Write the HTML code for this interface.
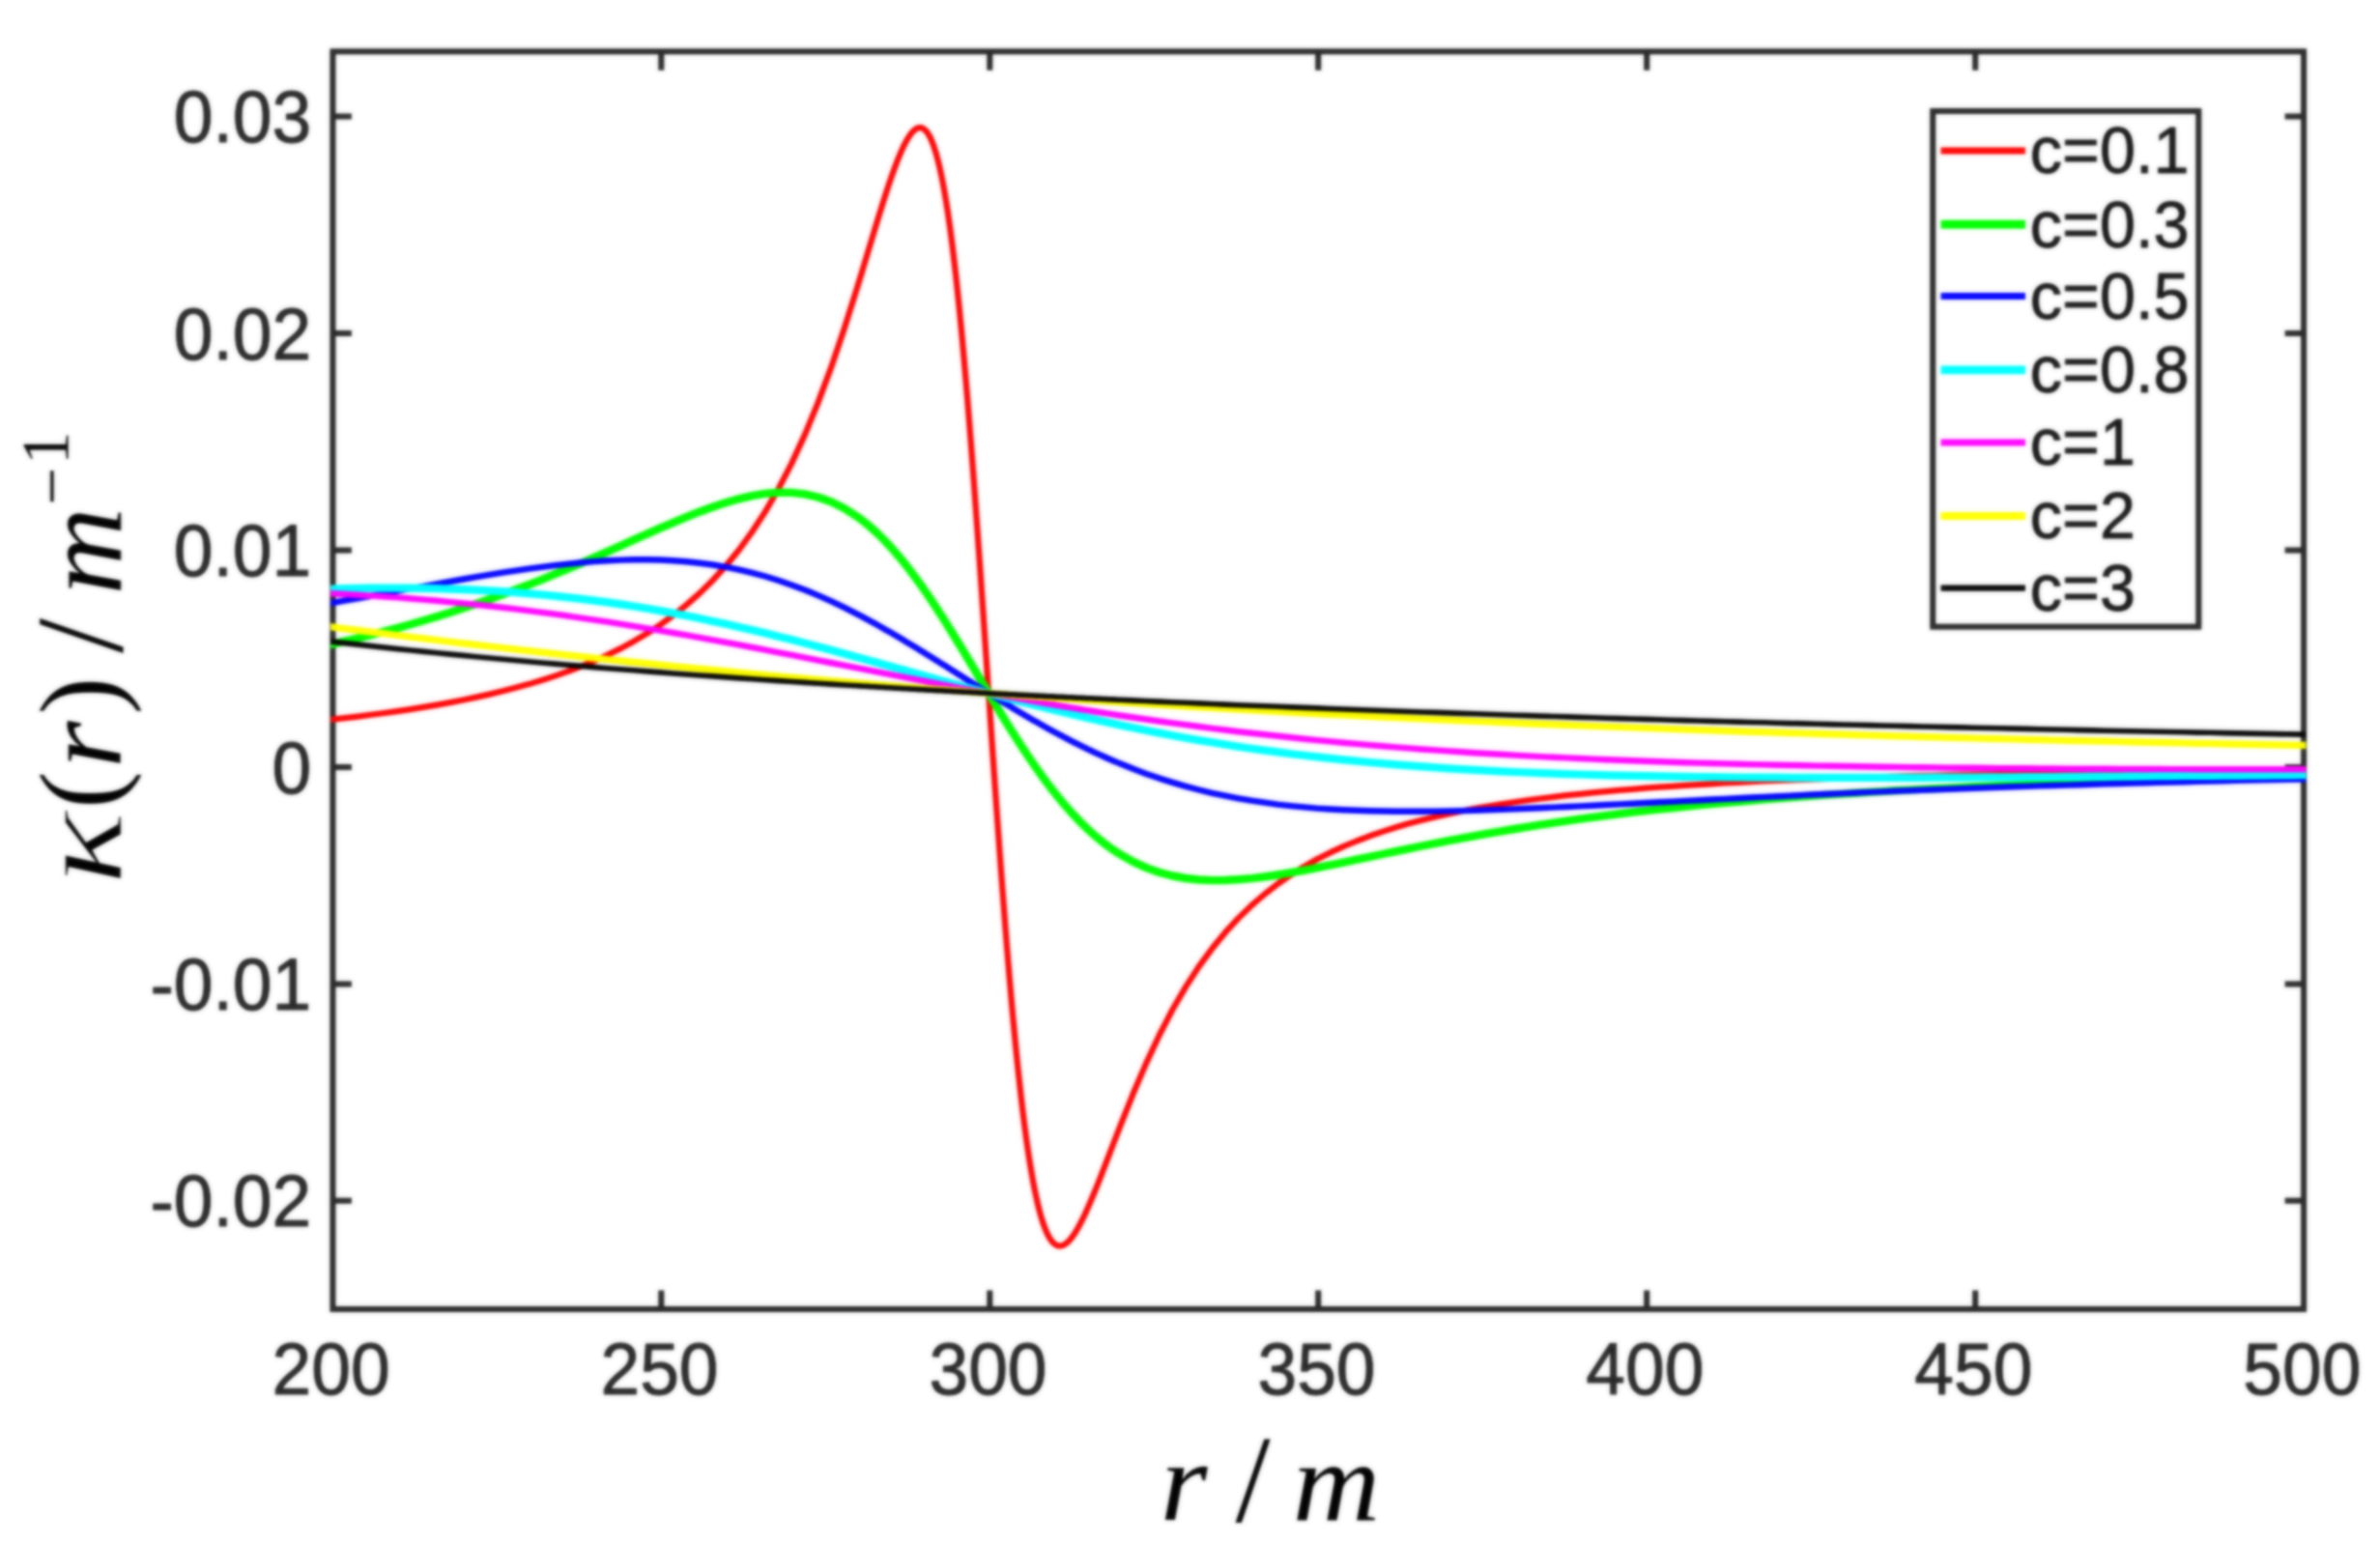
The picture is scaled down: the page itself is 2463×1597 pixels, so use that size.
<!DOCTYPE html>
<html><head><meta charset="utf-8"><title>kappa(r)</title>
<style>
html,body{margin:0;padding:0;background:#fff;}
body{width:2463px;height:1597px;overflow:hidden;}
svg{display:block;}
.t{font-family:"Liberation Sans",sans-serif;fill:#262626;}
.t text{stroke:#262626;stroke-width:0.9px;stroke-linejoin:round;}
.m{font-family:"Liberation Serif",serif;fill:#000;}
.i{font-style:italic;}
</style></head><body>
<svg width="2463" height="1597" viewBox="0 0 2463 1597">
<defs><filter id="b" x="-2%" y="-2%" width="104%" height="104%" color-interpolation-filters="sRGB"><feGaussianBlur in="SourceGraphic" stdDeviation="1.00" result="a"/><feGaussianBlur in="SourceGraphic" stdDeviation="2.4" result="c"/><feComposite in="a" in2="c" operator="arithmetic" k1="0" k2="0.6" k3="0.4" k4="0"/></filter>
<clipPath id="cp"><rect x="342.2" y="53.3" width="2044.1" height="1301.7"/></clipPath></defs>
<rect width="2463" height="1597" fill="#fff"/>
<g filter="url(#b)">
<g stroke="#262626" stroke-width="6.0" fill="none" stroke-linecap="butt">
<rect x="344.4" y="53.3" width="2039.7" height="1301.7"/>
<path d="M684.3 1355.0V1335.5M684.3 53.3V72.8M1024.3 1355.0V1335.5M1024.3 53.3V72.8M1364.2 1355.0V1335.5M1364.2 53.3V72.8M1704.2 1355.0V1335.5M1704.2 53.3V72.8M2044.2 1355.0V1335.5M2044.2 53.3V72.8M344.4 1242.8H363.9M2384.1 1242.8H2364.6M344.4 1018.4H363.9M2384.1 1018.4H2364.6M344.4 793.9H363.9M2384.1 793.9H2364.6M344.4 569.5H363.9M2384.1 569.5H2364.6M344.4 345.1H363.9M2384.1 345.1H2364.6M344.4 120.6H363.9M2384.1 120.6H2364.6"/>
</g>
<g clip-path="url(#cp)" fill="none" stroke-linejoin="round" stroke-linecap="butt">
<polyline stroke="#ff0000" stroke-width="6.2" points="329.6,746.1 343.2,744.7 356.8,743.2 370.4,741.6 384.0,739.8 397.6,738.0 411.2,736.1 424.8,734.1 438.4,731.9 452.0,729.6 465.6,727.1 479.2,724.5 492.8,721.6 506.4,718.6 520.0,715.3 533.6,711.8 547.2,708.1 560.8,704.0 574.4,699.6 588.0,694.8 601.6,689.6 615.2,684.0 628.8,677.8 642.4,671.1 656.0,663.7 669.6,655.7 683.1,646.8 696.7,637.0 710.3,626.1 723.9,614.1 737.5,600.7 751.1,585.8 764.7,569.2 778.3,550.5 791.9,529.6 805.5,506.2 819.1,479.9 832.7,450.4 846.3,417.4 859.9,380.9 873.5,340.8 887.1,297.6 888.8,292.0 890.5,286.5 892.2,280.8 893.9,275.2 895.6,269.6 897.3,263.9 899.0,258.2 900.7,252.6 902.4,246.9 904.1,241.3 905.8,235.7 907.5,230.1 909.2,224.5 910.9,219.0 912.6,213.5 914.3,208.1 916.0,202.8 917.7,197.5 919.4,192.3 921.1,187.3 922.8,182.3 924.5,177.5 926.2,172.9 927.9,168.4 929.6,164.0 931.3,159.9 933.0,156.0 934.7,152.2 936.4,148.8 938.1,145.6 939.8,142.7 941.5,140.1 943.2,137.8 944.9,135.9 946.6,134.3 948.3,133.1 950.0,132.4 951.7,132.1 953.4,132.2 955.1,132.9 956.8,134.0 958.5,135.7 960.2,138.0 961.9,140.9 963.6,144.4 965.3,148.5 967.0,153.3 968.7,158.8 970.4,165.0 972.1,171.9 973.8,179.6 975.5,188.0 977.2,197.2 978.9,207.3 980.6,218.1 982.3,229.7 984.0,242.2 985.7,255.5 987.4,269.6 989.1,284.5 990.8,300.3 992.5,316.8 994.2,334.2 995.9,352.3 997.6,371.2 999.3,390.7 1001.0,411.0 1002.7,432.0 1004.4,453.5 1006.1,475.6 1007.8,498.3 1009.5,521.5 1011.2,545.0 1012.9,569.0 1014.6,593.3 1016.3,617.8 1018.0,642.6 1019.7,667.5 1021.4,692.5 1023.1,717.5 1024.8,742.5 1026.5,767.3 1028.2,792.0 1029.9,816.5 1031.6,840.7 1033.3,864.6 1035.0,888.0 1036.7,911.1 1038.4,933.6 1040.1,955.6 1041.8,977.0 1043.5,997.8 1045.2,1018.0 1046.9,1037.5 1048.6,1056.2 1050.3,1074.3 1052.0,1091.6 1053.7,1108.2 1055.4,1123.9 1057.1,1138.9 1058.8,1153.2 1060.5,1166.6 1062.2,1179.3 1063.9,1191.1 1065.6,1202.3 1067.3,1212.6 1069.0,1222.2 1070.7,1231.1 1072.4,1239.2 1074.1,1246.7 1075.8,1253.5 1077.5,1259.6 1079.2,1265.1 1080.9,1269.9 1082.6,1274.2 1084.3,1277.9 1086.0,1281.0 1087.7,1283.6 1089.4,1285.7 1091.1,1287.3 1092.8,1288.5 1094.5,1289.3 1096.2,1289.6 1097.9,1289.5 1099.6,1289.1 1101.3,1288.3 1103.0,1287.2 1104.7,1285.8 1106.4,1284.1 1108.1,1282.2 1109.8,1280.0 1111.5,1277.6 1113.2,1274.9 1114.9,1272.1 1116.6,1269.0 1118.3,1265.8 1120.0,1262.5 1121.7,1259.0 1123.4,1255.4 1125.1,1251.6 1126.8,1247.8 1128.5,1243.8 1130.2,1239.8 1131.9,1235.7 1133.6,1231.6 1135.3,1227.3 1137.0,1223.1 1138.7,1218.8 1140.4,1214.4 1142.1,1210.0 1143.8,1205.6 1145.5,1201.2 1147.2,1196.8 1148.9,1192.4 1150.6,1187.9 1152.3,1183.5 1154.0,1179.1 1155.7,1174.7 1157.4,1170.3 1159.1,1165.9 1172.7,1131.8 1186.3,1100.1 1199.9,1071.0 1213.5,1044.8 1227.1,1021.4 1240.7,1000.4 1254.3,981.8 1267.9,965.2 1281.5,950.4 1295.1,937.2 1308.7,925.5 1322.3,914.9 1335.9,905.5 1349.5,897.0 1363.0,889.3 1376.6,882.4 1390.2,876.1 1403.8,870.5 1417.4,865.3 1431.0,860.6 1444.6,856.3 1458.2,852.3 1471.8,848.7 1485.4,845.4 1499.0,842.4 1512.6,839.5 1526.2,836.9 1539.8,834.5 1553.4,832.3 1567.0,830.2 1580.6,828.3 1594.2,826.5 1607.8,824.8 1621.4,823.2 1635.0,821.8 1648.6,820.4 1662.2,819.1 1675.8,817.9 1689.4,816.8 1703.0,815.7 1716.6,814.7 1730.2,813.8 1743.8,812.9 1757.4,812.1 1771.0,811.3 1784.6,810.5 1798.2,809.8 1811.8,809.1 1825.4,808.5 1839.0,807.9 1852.6,807.3 1866.2,806.8 1879.8,806.3 1893.4,805.8 1907.0,805.3 1920.6,804.8 1934.2,804.4 1947.8,804.0 1961.4,803.6 1975.0,803.2 1988.6,802.9 2002.2,802.5 2015.8,802.2 2029.4,801.9 2043.0,801.6 2056.5,801.3 2070.1,801.1 2083.7,800.8 2097.3,800.5 2110.9,800.3 2124.5,800.1 2138.1,799.8 2151.7,799.6 2165.3,799.4 2178.9,799.2 2192.5,799.0 2206.1,798.8 2219.7,798.7 2233.3,798.5 2246.9,798.3 2260.5,798.2 2274.1,798.0 2287.7,797.9 2301.3,797.7 2314.9,797.6 2328.5,797.4 2342.1,797.3 2355.7,797.2 2369.3,797.1 2382.9,797.0 2396.5,796.8"/>
<polyline stroke="#00ff00" stroke-width="8.4" points="329.6,669.8 343.2,666.8 356.8,663.7 370.4,660.5 384.0,657.1 397.6,653.6 411.2,650.0 424.8,646.2 438.4,642.3 452.0,638.2 465.6,634.0 479.2,629.6 492.8,625.0 506.4,620.3 520.0,615.4 533.6,610.3 547.2,605.1 560.8,599.8 574.4,594.2 588.0,588.6 601.6,582.8 615.2,576.9 628.8,570.9 642.4,564.8 656.0,558.7 669.6,552.6 683.1,546.6 696.7,540.8 710.3,535.1 723.9,529.7 737.5,524.7 751.1,520.2 764.7,516.3 778.3,513.2 791.9,510.9 805.5,509.8 819.1,509.9 832.7,511.4 846.3,514.5 859.9,519.3 873.5,526.0 887.1,534.7 888.8,535.9 890.5,537.2 892.2,538.5 893.9,539.8 895.6,541.2 897.3,542.6 899.0,544.0 900.7,545.5 902.4,547.0 904.1,548.5 905.8,550.0 907.5,551.6 909.2,553.2 910.9,554.9 912.6,556.6 914.3,558.3 916.0,560.0 917.7,561.8 919.4,563.6 921.1,565.5 922.8,567.4 924.5,569.3 926.2,571.2 927.9,573.2 929.6,575.2 931.3,577.2 933.0,579.3 934.7,581.3 936.4,583.5 938.1,585.6 939.8,587.8 941.5,590.0 943.2,592.2 944.9,594.5 946.6,596.7 948.3,599.1 950.0,601.4 951.7,603.8 953.4,606.1 955.1,608.5 956.8,611.0 958.5,613.4 960.2,615.9 961.9,618.4 963.6,620.9 965.3,623.5 967.0,626.0 968.7,628.6 970.4,631.2 972.1,633.9 973.8,636.5 975.5,639.1 977.2,641.8 978.9,644.5 980.6,647.2 982.3,649.9 984.0,652.7 985.7,655.4 987.4,658.2 989.1,660.9 990.8,663.7 992.5,666.5 994.2,669.3 995.9,672.1 997.6,674.9 999.3,677.7 1001.0,680.6 1002.7,683.4 1004.4,686.2 1006.1,689.1 1007.8,691.9 1009.5,694.8 1011.2,697.6 1012.9,700.5 1014.6,703.3 1016.3,706.1 1018.0,709.0 1019.7,711.8 1021.4,714.7 1023.1,717.5 1024.8,720.3 1026.5,723.2 1028.2,726.0 1029.9,728.8 1031.6,731.6 1033.3,734.4 1035.0,737.2 1036.7,740.0 1038.4,742.7 1040.1,745.5 1041.8,748.2 1043.5,751.0 1045.2,753.7 1046.9,756.4 1048.6,759.1 1050.3,761.7 1052.0,764.4 1053.7,767.0 1055.4,769.7 1057.1,772.3 1058.8,774.9 1060.5,777.4 1062.2,780.0 1063.9,782.5 1065.6,785.0 1067.3,787.5 1069.0,790.0 1070.7,792.5 1072.4,794.9 1074.1,797.3 1075.8,799.7 1077.5,802.0 1079.2,804.4 1080.9,806.7 1082.6,809.0 1084.3,811.2 1086.0,813.5 1087.7,815.7 1089.4,817.9 1091.1,820.0 1092.8,822.2 1094.5,824.3 1096.2,826.4 1097.9,828.4 1099.6,830.5 1101.3,832.5 1103.0,834.4 1104.7,836.4 1106.4,838.3 1108.1,840.2 1109.8,842.1 1111.5,843.9 1113.2,845.7 1114.9,847.5 1116.6,849.3 1118.3,851.0 1120.0,852.7 1121.7,854.4 1123.4,856.0 1125.1,857.6 1126.8,859.2 1128.5,860.8 1130.2,862.3 1131.9,863.8 1133.6,865.3 1135.3,866.7 1137.0,868.2 1138.7,869.6 1140.4,870.9 1142.1,872.3 1143.8,873.6 1145.5,874.9 1147.2,876.1 1148.9,877.4 1150.6,878.6 1152.3,879.8 1154.0,880.9 1155.7,882.0 1157.4,883.1 1159.1,884.2 1172.7,891.9 1186.3,898.1 1199.9,903.0 1213.5,906.5 1227.1,909.0 1240.7,910.5 1254.3,911.1 1267.9,911.0 1281.5,910.3 1295.1,909.1 1308.7,907.5 1322.3,905.5 1335.9,903.2 1349.5,900.8 1363.0,898.2 1376.6,895.4 1390.2,892.6 1403.8,889.7 1417.4,886.9 1431.0,884.0 1444.6,881.1 1458.2,878.3 1471.8,875.5 1485.4,872.8 1499.0,870.2 1512.6,867.6 1526.2,865.1 1539.8,862.6 1553.4,860.3 1567.0,858.0 1580.6,855.8 1594.2,853.6 1607.8,851.6 1621.4,849.6 1635.0,847.7 1648.6,845.8 1662.2,844.1 1675.8,842.4 1689.4,840.7 1703.0,839.1 1716.6,837.6 1730.2,836.2 1743.8,834.8 1757.4,833.4 1771.0,832.1 1784.6,830.9 1798.2,829.7 1811.8,828.5 1825.4,827.4 1839.0,826.3 1852.6,825.3 1866.2,824.3 1879.8,823.4 1893.4,822.4 1907.0,821.6 1920.6,820.7 1934.2,819.9 1947.8,819.1 1961.4,818.3 1975.0,817.6 1988.6,816.9 2002.2,816.2 2015.8,815.6 2029.4,814.9 2043.0,814.3 2056.5,813.7 2070.1,813.1 2083.7,812.6 2097.3,812.1 2110.9,811.5 2124.5,811.0 2138.1,810.6 2151.7,810.1 2165.3,809.7 2178.9,809.2 2192.5,808.8 2206.1,808.4 2219.7,808.0 2233.3,807.6 2246.9,807.2 2260.5,806.9 2274.1,806.5 2287.7,806.2 2301.3,805.9 2314.9,805.5 2328.5,805.2 2342.1,804.9 2355.7,804.7 2369.3,804.4 2382.9,804.1 2396.5,803.8"/>
<polyline stroke="#0000ff" stroke-width="6.4" points="329.6,626.7 343.2,624.2 356.8,621.7 370.4,619.3 384.0,616.8 397.6,614.3 411.2,611.7 424.8,609.2 438.4,606.8 452.0,604.3 465.6,601.9 479.2,599.5 492.8,597.1 506.4,594.9 520.0,592.7 533.6,590.6 547.2,588.6 560.8,586.8 574.4,585.1 588.0,583.6 601.6,582.2 615.2,581.1 628.8,580.2 642.4,579.6 656.0,579.3 669.6,579.2 683.1,579.5 696.7,580.2 710.3,581.2 723.9,582.7 737.5,584.5 751.1,586.8 764.7,589.6 778.3,592.8 791.9,596.5 805.5,600.7 819.1,605.4 832.7,610.5 846.3,616.1 859.9,622.2 873.5,628.7 887.1,635.6 888.8,636.5 890.5,637.3 892.2,638.2 893.9,639.2 895.6,640.1 897.3,641.0 899.0,641.9 900.7,642.8 902.4,643.8 904.1,644.7 905.8,645.6 907.5,646.6 909.2,647.5 910.9,648.5 912.6,649.5 914.3,650.4 916.0,651.4 917.7,652.4 919.4,653.3 921.1,654.3 922.8,655.3 924.5,656.3 926.2,657.3 927.9,658.3 929.6,659.3 931.3,660.3 933.0,661.3 934.7,662.3 936.4,663.4 938.1,664.4 939.8,665.4 941.5,666.4 943.2,667.5 944.9,668.5 946.6,669.5 948.3,670.6 950.0,671.6 951.7,672.7 953.4,673.7 955.1,674.8 956.8,675.8 958.5,676.9 960.2,677.9 961.9,679.0 963.6,680.0 965.3,681.1 967.0,682.2 968.7,683.2 970.4,684.3 972.1,685.4 973.8,686.4 975.5,687.5 977.2,688.6 978.9,689.6 980.6,690.7 982.3,691.8 984.0,692.9 985.7,693.9 987.4,695.0 989.1,696.1 990.8,697.2 992.5,698.2 994.2,699.3 995.9,700.4 997.6,701.5 999.3,702.5 1001.0,703.6 1002.7,704.7 1004.4,705.8 1006.1,706.8 1007.8,707.9 1009.5,709.0 1011.2,710.1 1012.9,711.1 1014.6,712.2 1016.3,713.3 1018.0,714.3 1019.7,715.4 1021.4,716.5 1023.1,717.5 1024.8,718.6 1026.5,719.6 1028.2,720.7 1029.9,721.7 1031.6,722.8 1033.3,723.8 1035.0,724.9 1036.7,725.9 1038.4,727.0 1040.1,728.0 1041.8,729.0 1043.5,730.1 1045.2,731.1 1046.9,732.1 1048.6,733.2 1050.3,734.2 1052.0,735.2 1053.7,736.2 1055.4,737.2 1057.1,738.2 1058.8,739.2 1060.5,740.2 1062.2,741.2 1063.9,742.2 1065.6,743.2 1067.3,744.2 1069.0,745.2 1070.7,746.2 1072.4,747.1 1074.1,748.1 1075.8,749.1 1077.5,750.0 1079.2,751.0 1080.9,752.0 1082.6,752.9 1084.3,753.9 1086.0,754.8 1087.7,755.7 1089.4,756.7 1091.1,757.6 1092.8,758.5 1094.5,759.4 1096.2,760.3 1097.9,761.2 1099.6,762.1 1101.3,763.0 1103.0,763.9 1104.7,764.8 1106.4,765.7 1108.1,766.6 1109.8,767.5 1111.5,768.3 1113.2,769.2 1114.9,770.0 1116.6,770.9 1118.3,771.7 1120.0,772.6 1121.7,773.4 1123.4,774.2 1125.1,775.1 1126.8,775.9 1128.5,776.7 1130.2,777.5 1131.9,778.3 1133.6,779.1 1135.3,779.9 1137.0,780.7 1138.7,781.4 1140.4,782.2 1142.1,783.0 1143.8,783.7 1145.5,784.5 1147.2,785.3 1148.9,786.0 1150.6,786.7 1152.3,787.5 1154.0,788.2 1155.7,788.9 1157.4,789.6 1159.1,790.3 1172.7,795.8 1186.3,800.9 1199.9,805.6 1213.5,809.9 1227.1,813.9 1240.7,817.5 1254.3,820.8 1267.9,823.7 1281.5,826.3 1295.1,828.7 1308.7,830.7 1322.3,832.6 1335.9,834.1 1349.5,835.4 1363.0,836.6 1376.6,837.5 1390.2,838.2 1403.8,838.8 1417.4,839.3 1431.0,839.5 1444.6,839.7 1458.2,839.8 1471.8,839.7 1485.4,839.6 1499.0,839.4 1512.6,839.1 1526.2,838.7 1539.8,838.3 1553.4,837.9 1567.0,837.4 1580.6,836.8 1594.2,836.2 1607.8,835.6 1621.4,835.0 1635.0,834.4 1648.6,833.7 1662.2,833.0 1675.8,832.4 1689.4,831.7 1703.0,831.0 1716.6,830.3 1730.2,829.6 1743.8,828.9 1757.4,828.2 1771.0,827.5 1784.6,826.9 1798.2,826.2 1811.8,825.5 1825.4,824.9 1839.0,824.2 1852.6,823.6 1866.2,822.9 1879.8,822.3 1893.4,821.7 1907.0,821.1 1920.6,820.5 1934.2,819.9 1947.8,819.4 1961.4,818.8 1975.0,818.3 1988.6,817.7 2002.2,817.2 2015.8,816.7 2029.4,816.2 2043.0,815.7 2056.5,815.2 2070.1,814.8 2083.7,814.3 2097.3,813.9 2110.9,813.4 2124.5,813.0 2138.1,812.6 2151.7,812.2 2165.3,811.8 2178.9,811.4 2192.5,811.0 2206.1,810.6 2219.7,810.2 2233.3,809.9 2246.9,809.5 2260.5,809.2 2274.1,808.9 2287.7,808.5 2301.3,808.2 2314.9,807.9 2328.5,807.6 2342.1,807.3 2355.7,807.0 2369.3,806.7 2382.9,806.5 2396.5,806.2"/>
<polyline stroke="#00ffff" stroke-width="8.2" points="329.6,609.8 343.2,609.5 356.8,609.1 370.4,608.9 384.0,608.7 397.6,608.6 411.2,608.6 424.8,608.7 438.4,608.9 452.0,609.2 465.6,609.6 479.2,610.1 492.8,610.7 506.4,611.4 520.0,612.2 533.6,613.2 547.2,614.3 560.8,615.5 574.4,616.8 588.0,618.3 601.6,619.9 615.2,621.6 628.8,623.4 642.4,625.4 656.0,627.5 669.6,629.8 683.1,632.1 696.7,634.6 710.3,637.3 723.9,640.0 737.5,642.9 751.1,645.8 764.7,648.9 778.3,652.1 791.9,655.3 805.5,658.7 819.1,662.1 832.7,665.6 846.3,669.2 859.9,672.8 873.5,676.5 887.1,680.2 888.8,680.6 890.5,681.1 892.2,681.6 893.9,682.0 895.6,682.5 897.3,683.0 899.0,683.4 900.7,683.9 902.4,684.4 904.1,684.8 905.8,685.3 907.5,685.8 909.2,686.2 910.9,686.7 912.6,687.2 914.3,687.7 916.0,688.1 917.7,688.6 919.4,689.1 921.1,689.5 922.8,690.0 924.5,690.5 926.2,691.0 927.9,691.4 929.6,691.9 931.3,692.4 933.0,692.8 934.7,693.3 936.4,693.8 938.1,694.3 939.8,694.7 941.5,695.2 943.2,695.7 944.9,696.1 946.6,696.6 948.3,697.1 950.0,697.6 951.7,698.0 953.4,698.5 955.1,699.0 956.8,699.4 958.5,699.9 960.2,700.4 961.9,700.9 963.6,701.3 965.3,701.8 967.0,702.3 968.7,702.7 970.4,703.2 972.1,703.7 973.8,704.1 975.5,704.6 977.2,705.1 978.9,705.5 980.6,706.0 982.3,706.5 984.0,706.9 985.7,707.4 987.4,707.9 989.1,708.3 990.8,708.8 992.5,709.3 994.2,709.7 995.9,710.2 997.6,710.7 999.3,711.1 1001.0,711.6 1002.7,712.0 1004.4,712.5 1006.1,713.0 1007.8,713.4 1009.5,713.9 1011.2,714.3 1012.9,714.8 1014.6,715.2 1016.3,715.7 1018.0,716.2 1019.7,716.6 1021.4,717.1 1023.1,717.5 1024.8,718.0 1026.5,718.4 1028.2,718.9 1029.9,719.3 1031.6,719.8 1033.3,720.2 1035.0,720.7 1036.7,721.1 1038.4,721.5 1040.1,722.0 1041.8,722.4 1043.5,722.9 1045.2,723.3 1046.9,723.8 1048.6,724.2 1050.3,724.6 1052.0,725.1 1053.7,725.5 1055.4,725.9 1057.1,726.4 1058.8,726.8 1060.5,727.3 1062.2,727.7 1063.9,728.1 1065.6,728.5 1067.3,729.0 1069.0,729.4 1070.7,729.8 1072.4,730.3 1074.1,730.7 1075.8,731.1 1077.5,731.5 1079.2,731.9 1080.9,732.4 1082.6,732.8 1084.3,733.2 1086.0,733.6 1087.7,734.0 1089.4,734.5 1091.1,734.9 1092.8,735.3 1094.5,735.7 1096.2,736.1 1097.9,736.5 1099.6,736.9 1101.3,737.3 1103.0,737.7 1104.7,738.1 1106.4,738.5 1108.1,738.9 1109.8,739.3 1111.5,739.7 1113.2,740.1 1114.9,740.5 1116.6,740.9 1118.3,741.3 1120.0,741.7 1121.7,742.1 1123.4,742.5 1125.1,742.9 1126.8,743.3 1128.5,743.7 1130.2,744.0 1131.9,744.4 1133.6,744.8 1135.3,745.2 1137.0,745.6 1138.7,745.9 1140.4,746.3 1142.1,746.7 1143.8,747.1 1145.5,747.4 1147.2,747.8 1148.9,748.2 1150.6,748.6 1152.3,748.9 1154.0,749.3 1155.7,749.7 1157.4,750.0 1159.1,750.4 1172.7,753.2 1186.3,756.0 1199.9,758.6 1213.5,761.2 1227.1,763.7 1240.7,766.1 1254.3,768.3 1267.9,770.5 1281.5,772.7 1295.1,774.7 1308.7,776.6 1322.3,778.4 1335.9,780.2 1349.5,781.8 1363.0,783.4 1376.6,784.9 1390.2,786.4 1403.8,787.7 1417.4,789.0 1431.0,790.2 1444.6,791.3 1458.2,792.4 1471.8,793.4 1485.4,794.4 1499.0,795.3 1512.6,796.1 1526.2,796.9 1539.8,797.6 1553.4,798.3 1567.0,799.0 1580.6,799.5 1594.2,800.1 1607.8,800.6 1621.4,801.1 1635.0,801.5 1648.6,801.9 1662.2,802.3 1675.8,802.6 1689.4,802.9 1703.0,803.2 1716.6,803.4 1730.2,803.7 1743.8,803.9 1757.4,804.0 1771.0,804.2 1784.6,804.3 1798.2,804.5 1811.8,804.6 1825.4,804.7 1839.0,804.7 1852.6,804.8 1866.2,804.8 1879.8,804.9 1893.4,804.9 1907.0,804.9 1920.6,804.9 1934.2,804.9 1947.8,804.9 1961.4,804.8 1975.0,804.8 1988.6,804.8 2002.2,804.7 2015.8,804.6 2029.4,804.6 2043.0,804.5 2056.5,804.4 2070.1,804.4 2083.7,804.3 2097.3,804.2 2110.9,804.1 2124.5,804.0 2138.1,803.9 2151.7,803.8 2165.3,803.7 2178.9,803.6 2192.5,803.5 2206.1,803.4 2219.7,803.3 2233.3,803.2 2246.9,803.1 2260.5,803.0 2274.1,802.9 2287.7,802.8 2301.3,802.7 2314.9,802.6 2328.5,802.5 2342.1,802.3 2355.7,802.2 2369.3,802.1 2382.9,802.0 2396.5,801.9"/>
<polyline stroke="#ff00ff" stroke-width="6.4" points="329.6,613.6 343.2,614.3 356.8,615.0 370.4,615.7 384.0,616.6 397.6,617.5 411.2,618.4 424.8,619.5 438.4,620.6 452.0,621.8 465.6,623.1 479.2,624.4 492.8,625.8 506.4,627.3 520.0,628.8 533.6,630.4 547.2,632.1 560.8,633.9 574.4,635.7 588.0,637.6 601.6,639.6 615.2,641.6 628.8,643.7 642.4,645.9 656.0,648.1 669.6,650.3 683.1,652.6 696.7,655.0 710.3,657.4 723.9,659.9 737.5,662.4 751.1,664.9 764.7,667.4 778.3,670.0 791.9,672.6 805.5,675.3 819.1,677.9 832.7,680.6 846.3,683.3 859.9,686.0 873.5,688.7 887.1,691.4 888.8,691.7 890.5,692.0 892.2,692.4 893.9,692.7 895.6,693.0 897.3,693.4 899.0,693.7 900.7,694.0 902.4,694.4 904.1,694.7 905.8,695.0 907.5,695.4 909.2,695.7 910.9,696.0 912.6,696.4 914.3,696.7 916.0,697.1 917.7,697.4 919.4,697.7 921.1,698.1 922.8,698.4 924.5,698.7 926.2,699.1 927.9,699.4 929.6,699.7 931.3,700.1 933.0,700.4 934.7,700.7 936.4,701.0 938.1,701.4 939.8,701.7 941.5,702.0 943.2,702.4 944.9,702.7 946.6,703.0 948.3,703.4 950.0,703.7 951.7,704.0 953.4,704.4 955.1,704.7 956.8,705.0 958.5,705.3 960.2,705.7 961.9,706.0 963.6,706.3 965.3,706.6 967.0,707.0 968.7,707.3 970.4,707.6 972.1,707.9 973.8,708.3 975.5,708.6 977.2,708.9 978.9,709.2 980.6,709.6 982.3,709.9 984.0,710.2 985.7,710.5 987.4,710.9 989.1,711.2 990.8,711.5 992.5,711.8 994.2,712.1 995.9,712.5 997.6,712.8 999.3,713.1 1001.0,713.4 1002.7,713.7 1004.4,714.1 1006.1,714.4 1007.8,714.7 1009.5,715.0 1011.2,715.3 1012.9,715.6 1014.6,715.9 1016.3,716.3 1018.0,716.6 1019.7,716.9 1021.4,717.2 1023.1,717.5 1024.8,717.8 1026.5,718.1 1028.2,718.4 1029.9,718.8 1031.6,719.1 1033.3,719.4 1035.0,719.7 1036.7,720.0 1038.4,720.3 1040.1,720.6 1041.8,720.9 1043.5,721.2 1045.2,721.5 1046.9,721.8 1048.6,722.1 1050.3,722.4 1052.0,722.7 1053.7,723.0 1055.4,723.3 1057.1,723.6 1058.8,723.9 1060.5,724.2 1062.2,724.5 1063.9,724.8 1065.6,725.1 1067.3,725.4 1069.0,725.7 1070.7,726.0 1072.4,726.3 1074.1,726.6 1075.8,726.9 1077.5,727.2 1079.2,727.5 1080.9,727.8 1082.6,728.1 1084.3,728.4 1086.0,728.7 1087.7,728.9 1089.4,729.2 1091.1,729.5 1092.8,729.8 1094.5,730.1 1096.2,730.4 1097.9,730.7 1099.6,731.0 1101.3,731.2 1103.0,731.5 1104.7,731.8 1106.4,732.1 1108.1,732.4 1109.8,732.6 1111.5,732.9 1113.2,733.2 1114.9,733.5 1116.6,733.8 1118.3,734.0 1120.0,734.3 1121.7,734.6 1123.4,734.9 1125.1,735.1 1126.8,735.4 1128.5,735.7 1130.2,736.0 1131.9,736.2 1133.6,736.5 1135.3,736.8 1137.0,737.0 1138.7,737.3 1140.4,737.6 1142.1,737.8 1143.8,738.1 1145.5,738.4 1147.2,738.6 1148.9,738.9 1150.6,739.2 1152.3,739.4 1154.0,739.7 1155.7,740.0 1157.4,740.2 1159.1,740.5 1172.7,742.5 1186.3,744.5 1199.9,746.5 1213.5,748.4 1227.1,750.2 1240.7,752.0 1254.3,753.8 1267.9,755.5 1281.5,757.2 1295.1,758.8 1308.7,760.3 1322.3,761.8 1335.9,763.3 1349.5,764.7 1363.0,766.1 1376.6,767.4 1390.2,768.7 1403.8,769.9 1417.4,771.1 1431.0,772.3 1444.6,773.4 1458.2,774.4 1471.8,775.5 1485.4,776.4 1499.0,777.4 1512.6,778.3 1526.2,779.2 1539.8,780.0 1553.4,780.8 1567.0,781.6 1580.6,782.4 1594.2,783.1 1607.8,783.8 1621.4,784.4 1635.0,785.0 1648.6,785.6 1662.2,786.2 1675.8,786.8 1689.4,787.3 1703.0,787.8 1716.6,788.3 1730.2,788.7 1743.8,789.2 1757.4,789.6 1771.0,790.0 1784.6,790.4 1798.2,790.7 1811.8,791.1 1825.4,791.4 1839.0,791.7 1852.6,792.0 1866.2,792.3 1879.8,792.6 1893.4,792.8 1907.0,793.0 1920.6,793.3 1934.2,793.5 1947.8,793.7 1961.4,793.9 1975.0,794.1 1988.6,794.2 2002.2,794.4 2015.8,794.6 2029.4,794.7 2043.0,794.8 2056.5,795.0 2070.1,795.1 2083.7,795.2 2097.3,795.3 2110.9,795.4 2124.5,795.5 2138.1,795.6 2151.7,795.7 2165.3,795.7 2178.9,795.8 2192.5,795.9 2206.1,795.9 2219.7,796.0 2233.3,796.0 2246.9,796.1 2260.5,796.1 2274.1,796.2 2287.7,796.2 2301.3,796.2 2314.9,796.2 2328.5,796.3 2342.1,796.3 2355.7,796.3 2369.3,796.3 2382.9,796.3 2396.5,796.4"/>
<polyline stroke="#ffff00" stroke-width="7.2" points="329.6,647.1 343.2,648.9 356.8,650.7 370.4,652.4 384.0,654.1 397.6,655.8 411.2,657.5 424.8,659.2 438.4,660.9 452.0,662.5 465.6,664.2 479.2,665.8 492.8,667.4 506.4,669.0 520.0,670.5 533.6,672.1 547.2,673.6 560.8,675.1 574.4,676.6 588.0,678.1 601.6,679.6 615.2,681.1 628.8,682.5 642.4,683.9 656.0,685.3 669.6,686.7 683.1,688.1 696.7,689.5 710.3,690.8 723.9,692.1 737.5,693.4 751.1,694.7 764.7,696.0 778.3,697.3 791.9,698.5 805.5,699.8 819.1,701.0 832.7,702.2 846.3,703.4 859.9,704.5 873.5,705.7 887.1,706.9 888.8,707.0 890.5,707.1 892.2,707.3 893.9,707.4 895.6,707.6 897.3,707.7 899.0,707.8 900.7,708.0 902.4,708.1 904.1,708.3 905.8,708.4 907.5,708.5 909.2,708.7 910.9,708.8 912.6,709.0 914.3,709.1 916.0,709.2 917.7,709.4 919.4,709.5 921.1,709.6 922.8,709.8 924.5,709.9 926.2,710.1 927.9,710.2 929.6,710.3 931.3,710.5 933.0,710.6 934.7,710.7 936.4,710.9 938.1,711.0 939.8,711.1 941.5,711.3 943.2,711.4 944.9,711.6 946.6,711.7 948.3,711.8 950.0,712.0 951.7,712.1 953.4,712.2 955.1,712.4 956.8,712.5 958.5,712.6 960.2,712.8 961.9,712.9 963.6,713.0 965.3,713.2 967.0,713.3 968.7,713.4 970.4,713.5 972.1,713.7 973.8,713.8 975.5,713.9 977.2,714.1 978.9,714.2 980.6,714.3 982.3,714.5 984.0,714.6 985.7,714.7 987.4,714.8 989.1,715.0 990.8,715.1 992.5,715.2 994.2,715.4 995.9,715.5 997.6,715.6 999.3,715.7 1001.0,715.9 1002.7,716.0 1004.4,716.1 1006.1,716.3 1007.8,716.4 1009.5,716.5 1011.2,716.6 1012.9,716.8 1014.6,716.9 1016.3,717.0 1018.0,717.1 1019.7,717.3 1021.4,717.4 1023.1,717.5 1024.8,717.6 1026.5,717.8 1028.2,717.9 1029.9,718.0 1031.6,718.1 1033.3,718.3 1035.0,718.4 1036.7,718.5 1038.4,718.6 1040.1,718.7 1041.8,718.9 1043.5,719.0 1045.2,719.1 1046.9,719.2 1048.6,719.4 1050.3,719.5 1052.0,719.6 1053.7,719.7 1055.4,719.8 1057.1,720.0 1058.8,720.1 1060.5,720.2 1062.2,720.3 1063.9,720.4 1065.6,720.6 1067.3,720.7 1069.0,720.8 1070.7,720.9 1072.4,721.0 1074.1,721.2 1075.8,721.3 1077.5,721.4 1079.2,721.5 1080.9,721.6 1082.6,721.8 1084.3,721.9 1086.0,722.0 1087.7,722.1 1089.4,722.2 1091.1,722.3 1092.8,722.5 1094.5,722.6 1096.2,722.7 1097.9,722.8 1099.6,722.9 1101.3,723.0 1103.0,723.1 1104.7,723.3 1106.4,723.4 1108.1,723.5 1109.8,723.6 1111.5,723.7 1113.2,723.8 1114.9,723.9 1116.6,724.1 1118.3,724.2 1120.0,724.3 1121.7,724.4 1123.4,724.5 1125.1,724.6 1126.8,724.7 1128.5,724.9 1130.2,725.0 1131.9,725.1 1133.6,725.2 1135.3,725.3 1137.0,725.4 1138.7,725.5 1140.4,725.6 1142.1,725.7 1143.8,725.9 1145.5,726.0 1147.2,726.1 1148.9,726.2 1150.6,726.3 1152.3,726.4 1154.0,726.5 1155.7,726.6 1157.4,726.7 1159.1,726.8 1172.7,727.7 1186.3,728.6 1199.9,729.4 1213.5,730.2 1227.1,731.1 1240.7,731.9 1254.3,732.7 1267.9,733.4 1281.5,734.2 1295.1,735.0 1308.7,735.7 1322.3,736.5 1335.9,737.2 1349.5,737.9 1363.0,738.6 1376.6,739.3 1390.2,740.0 1403.8,740.7 1417.4,741.4 1431.0,742.1 1444.6,742.7 1458.2,743.4 1471.8,744.0 1485.4,744.6 1499.0,745.2 1512.6,745.9 1526.2,746.5 1539.8,747.0 1553.4,747.6 1567.0,748.2 1580.6,748.8 1594.2,749.3 1607.8,749.9 1621.4,750.4 1635.0,751.0 1648.6,751.5 1662.2,752.0 1675.8,752.5 1689.4,753.0 1703.0,753.5 1716.6,754.0 1730.2,754.5 1743.8,755.0 1757.4,755.5 1771.0,755.9 1784.6,756.4 1798.2,756.8 1811.8,757.3 1825.4,757.7 1839.0,758.2 1852.6,758.6 1866.2,759.0 1879.8,759.4 1893.4,759.8 1907.0,760.2 1920.6,760.6 1934.2,761.0 1947.8,761.4 1961.4,761.8 1975.0,762.2 1988.6,762.6 2002.2,762.9 2015.8,763.3 2029.4,763.6 2043.0,764.0 2056.5,764.3 2070.1,764.7 2083.7,765.0 2097.3,765.3 2110.9,765.7 2124.5,766.0 2138.1,766.3 2151.7,766.6 2165.3,766.9 2178.9,767.2 2192.5,767.5 2206.1,767.8 2219.7,768.1 2233.3,768.4 2246.9,768.7 2260.5,769.0 2274.1,769.3 2287.7,769.5 2301.3,769.8 2314.9,770.1 2328.5,770.3 2342.1,770.6 2355.7,770.9 2369.3,771.1 2382.9,771.4 2396.5,771.6"/>
<polyline stroke="#000000" stroke-width="5.6" points="329.6,662.5 343.2,664.1 356.8,665.6 370.4,667.1 384.0,668.6 397.6,670.1 411.2,671.6 424.8,673.0 438.4,674.4 452.0,675.8 465.6,677.1 479.2,678.4 492.8,679.8 506.4,681.0 520.0,682.3 533.6,683.5 547.2,684.8 560.8,686.0 574.4,687.1 588.0,688.3 601.6,689.4 615.2,690.6 628.8,691.7 642.4,692.8 656.0,693.8 669.6,694.9 683.1,695.9 696.7,697.0 710.3,698.0 723.9,699.0 737.5,699.9 751.1,700.9 764.7,701.9 778.3,702.8 791.9,703.7 805.5,704.6 819.1,705.5 832.7,706.4 846.3,707.3 859.9,708.1 873.5,709.0 887.1,709.8 888.8,709.9 890.5,710.0 892.2,710.1 893.9,710.2 895.6,710.3 897.3,710.4 899.0,710.5 900.7,710.6 902.4,710.7 904.1,710.8 905.8,710.9 907.5,711.0 909.2,711.1 910.9,711.2 912.6,711.3 914.3,711.4 916.0,711.5 917.7,711.6 919.4,711.7 921.1,711.8 922.8,711.9 924.5,712.0 926.2,712.1 927.9,712.2 929.6,712.3 931.3,712.4 933.0,712.5 934.7,712.6 936.4,712.7 938.1,712.8 939.8,712.9 941.5,713.0 943.2,713.1 944.9,713.2 946.6,713.3 948.3,713.4 950.0,713.5 951.7,713.6 953.4,713.7 955.1,713.8 956.8,713.9 958.5,714.0 960.2,714.1 961.9,714.2 963.6,714.3 965.3,714.4 967.0,714.5 968.7,714.6 970.4,714.6 972.1,714.7 973.8,714.8 975.5,714.9 977.2,715.0 978.9,715.1 980.6,715.2 982.3,715.3 984.0,715.4 985.7,715.5 987.4,715.6 989.1,715.7 990.8,715.8 992.5,715.9 994.2,716.0 995.9,716.1 997.6,716.1 999.3,716.2 1001.0,716.3 1002.7,716.4 1004.4,716.5 1006.1,716.6 1007.8,716.7 1009.5,716.8 1011.2,716.9 1012.9,717.0 1014.6,717.1 1016.3,717.2 1018.0,717.2 1019.7,717.3 1021.4,717.4 1023.1,717.5 1024.8,717.6 1026.5,717.7 1028.2,717.8 1029.9,717.9 1031.6,718.0 1033.3,718.0 1035.0,718.1 1036.7,718.2 1038.4,718.3 1040.1,718.4 1041.8,718.5 1043.5,718.6 1045.2,718.7 1046.9,718.8 1048.6,718.8 1050.3,718.9 1052.0,719.0 1053.7,719.1 1055.4,719.2 1057.1,719.3 1058.8,719.4 1060.5,719.5 1062.2,719.5 1063.9,719.6 1065.6,719.7 1067.3,719.8 1069.0,719.9 1070.7,720.0 1072.4,720.1 1074.1,720.1 1075.8,720.2 1077.5,720.3 1079.2,720.4 1080.9,720.5 1082.6,720.6 1084.3,720.7 1086.0,720.7 1087.7,720.8 1089.4,720.9 1091.1,721.0 1092.8,721.1 1094.5,721.2 1096.2,721.3 1097.9,721.3 1099.6,721.4 1101.3,721.5 1103.0,721.6 1104.7,721.7 1106.4,721.8 1108.1,721.8 1109.8,721.9 1111.5,722.0 1113.2,722.1 1114.9,722.2 1116.6,722.2 1118.3,722.3 1120.0,722.4 1121.7,722.5 1123.4,722.6 1125.1,722.7 1126.8,722.7 1128.5,722.8 1130.2,722.9 1131.9,723.0 1133.6,723.1 1135.3,723.1 1137.0,723.2 1138.7,723.3 1140.4,723.4 1142.1,723.5 1143.8,723.5 1145.5,723.6 1147.2,723.7 1148.9,723.8 1150.6,723.9 1152.3,723.9 1154.0,724.0 1155.7,724.1 1157.4,724.2 1159.1,724.3 1172.7,724.9 1186.3,725.5 1199.9,726.1 1213.5,726.7 1227.1,727.3 1240.7,727.9 1254.3,728.5 1267.9,729.1 1281.5,729.7 1295.1,730.2 1308.7,730.8 1322.3,731.3 1335.9,731.9 1349.5,732.4 1363.0,732.9 1376.6,733.5 1390.2,734.0 1403.8,734.5 1417.4,735.0 1431.0,735.5 1444.6,736.0 1458.2,736.5 1471.8,737.0 1485.4,737.4 1499.0,737.9 1512.6,738.4 1526.2,738.8 1539.8,739.3 1553.4,739.7 1567.0,740.2 1580.6,740.6 1594.2,741.1 1607.8,741.5 1621.4,741.9 1635.0,742.4 1648.6,742.8 1662.2,743.2 1675.8,743.6 1689.4,744.0 1703.0,744.4 1716.6,744.8 1730.2,745.2 1743.8,745.6 1757.4,746.0 1771.0,746.4 1784.6,746.7 1798.2,747.1 1811.8,747.5 1825.4,747.8 1839.0,748.2 1852.6,748.6 1866.2,748.9 1879.8,749.3 1893.4,749.6 1907.0,750.0 1920.6,750.3 1934.2,750.6 1947.8,751.0 1961.4,751.3 1975.0,751.6 1988.6,752.0 2002.2,752.3 2015.8,752.6 2029.4,752.9 2043.0,753.2 2056.5,753.5 2070.1,753.8 2083.7,754.1 2097.3,754.4 2110.9,754.7 2124.5,755.0 2138.1,755.3 2151.7,755.6 2165.3,755.9 2178.9,756.2 2192.5,756.5 2206.1,756.7 2219.7,757.0 2233.3,757.3 2246.9,757.5 2260.5,757.8 2274.1,758.1 2287.7,758.3 2301.3,758.6 2314.9,758.9 2328.5,759.1 2342.1,759.4 2355.7,759.6 2369.3,759.9 2382.9,760.1 2396.5,760.4"/>
</g>
<g class="t" font-size="75.2">
<text transform="translate(342.6,1442.6) scale(0.973,1)" text-anchor="middle">200</text>
<text transform="translate(682.5,1442.6) scale(0.973,1)" text-anchor="middle">250</text>
<text transform="translate(1022.5,1442.6) scale(0.973,1)" text-anchor="middle">300</text>
<text transform="translate(1362.5,1442.6) scale(0.973,1)" text-anchor="middle">350</text>
<text transform="translate(1702.4,1442.6) scale(0.973,1)" text-anchor="middle">400</text>
<text transform="translate(2042.4,1442.6) scale(0.973,1)" text-anchor="middle">450</text>
<text transform="translate(2382.3,1442.6) scale(0.973,1)" text-anchor="middle">500</text>
<text transform="translate(322.2,1269.4) scale(0.973,1)" text-anchor="end">-0.02</text>
<text transform="translate(322.2,1045.0) scale(0.973,1)" text-anchor="end">-0.01</text>
<text transform="translate(322.2,820.5) scale(0.973,1)" text-anchor="end">0</text>
<text transform="translate(322.2,596.1) scale(0.973,1)" text-anchor="end">0.01</text>
<text transform="translate(322.2,371.7) scale(0.973,1)" text-anchor="end">0.02</text>
<text transform="translate(322.2,147.2) scale(0.973,1)" text-anchor="end">0.03</text>
</g>
<rect x="2000.2" y="115.0" width="275.1" height="533.7" fill="#fff" stroke="#262626" stroke-width="6.0"/>
<g class="t" font-size="68.6" style="fill:#141414">
<line x1="2008.5" x2="2096" y1="156.0" y2="156.0" stroke="#ff0000" stroke-width="6.8"/><text transform="translate(2100.8,179.3) scale(0.97,1)">c=0.1</text>
<line x1="2008.5" x2="2096" y1="232.2" y2="232.2" stroke="#00ff00" stroke-width="9.0"/><text transform="translate(2100.8,255.5) scale(0.97,1)">c=0.3</text>
<line x1="2008.5" x2="2096" y1="306.6" y2="306.6" stroke="#0000ff" stroke-width="7.0"/><text transform="translate(2100.8,329.9) scale(0.97,1)">c=0.5</text>
<line x1="2008.5" x2="2096" y1="382.9" y2="382.9" stroke="#00ffff" stroke-width="8.8"/><text transform="translate(2100.8,406.2) scale(0.97,1)">c=0.8</text>
<line x1="2008.5" x2="2096" y1="458.0" y2="458.0" stroke="#ff00ff" stroke-width="7.0"/><text transform="translate(2100.8,481.3) scale(0.97,1)">c=1</text>
<line x1="2008.5" x2="2096" y1="534.0" y2="534.0" stroke="#ffff00" stroke-width="7.8"/><text transform="translate(2100.8,557.3) scale(0.97,1)">c=2</text>
<line x1="2008.5" x2="2096" y1="608.6" y2="608.6" stroke="#000000" stroke-width="6.2"/><text transform="translate(2100.8,631.9) scale(0.97,1)">c=3</text>
</g>
<g class="m">
<text class="i" font-size="116" transform="translate(1200.7,1572.8) scale(1.08,1)">r</text><text font-size="130" x="1278.5" y="1574.6">/</text><text class="i" font-size="116" transform="translate(1337.7,1572.8) scale(1.08,1)">m</text>
</g>
<g class="m" transform="translate(124.6,0) rotate(-90)">
<text font-style="italic" font-size="127" stroke="#fff" stroke-width="1.5" transform="translate(-916.0,1.2) scale(1.26,1)" x="0" y="0">κ</text><text font-size="116.5" x="-837.0" y="-3">(</text><text class="i" font-size="116" transform="translate(-795.0,0) scale(1.08,1)">r</text><text font-size="116.5" x="-739.5" y="-3">)</text><text font-size="130" x="-676.0" y="1.8">/</text><text class="i" font-size="116" transform="translate(-615.5,0) scale(1.08,1)">m</text><text font-size="69" x="-522.5" y="-48.5">−</text><text font-size="69" x="-481.0" y="-54">1</text>
</g>
</g>
</svg>
</body></html>
